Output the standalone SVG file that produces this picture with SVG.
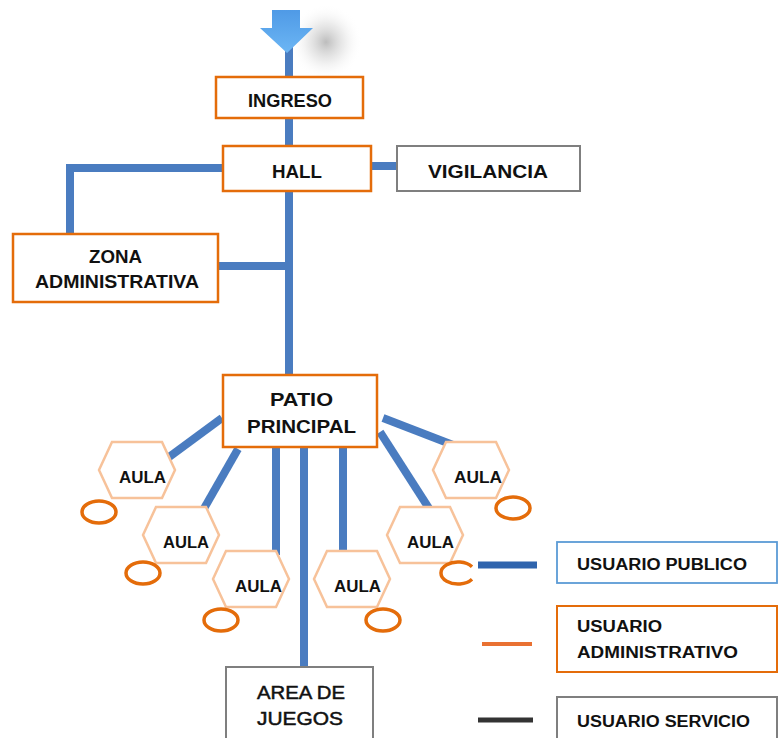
<svg xmlns="http://www.w3.org/2000/svg" xmlns:xlink="http://www.w3.org/1999/xlink" width="781" height="738" viewBox="0 0 781 738">
<style>
.box{fill:#fff;stroke:#e46c0a;stroke-width:2.5}
.gbox{fill:#fff;stroke:#7f7f7f;stroke-width:2}
.hex{fill:#fff;stroke:#f7c29a;stroke-width:2.5}
.ell{fill:none;stroke:#e46c0a;stroke-width:3.5}
.con{stroke:#4a7cc0;stroke-width:8;fill:none}
.t{font-family:"Liberation Sans",Arial,sans-serif;font-weight:bold;font-size:18px;fill:#111}
.a{font-family:"Liberation Sans",Arial,sans-serif;font-weight:bold;font-size:16px;fill:#111}
.r{font-family:"Liberation Sans",Arial,sans-serif;font-size:19px;fill:#111;stroke:#111;stroke-width:0.5}
</style>
<defs>
<polygon id="hex" points="-38,0 -25,-28 25,-28 38,0 25,28 -25,28"/>
<linearGradient id="arr" x1="0" y1="0" x2="0" y2="1">
<stop offset="0" stop-color="#4f9ae6"/>
<stop offset="1" stop-color="#6cb6f4"/>
</linearGradient>
<radialGradient id="sh">
<stop offset="0" stop-color="#a0a0a0" stop-opacity="0.7"/>
<stop offset="0.5" stop-color="#c8c8c8" stop-opacity="0.35"/>
<stop offset="1" stop-color="#ffffff" stop-opacity="0"/>
</radialGradient>
</defs>
<rect width="781" height="738" fill="#fff"/>
<ellipse cx="326" cy="42" rx="36" ry="38" fill="url(#sh)"/>

<g id="connectors">
<line class="con" x1="289" y1="45" x2="289" y2="375"/>
<polyline class="con" points="223,168 70,168 70,234"/>
<line class="con" x1="218" y1="266" x2="289" y2="266"/>
<line class="con" x1="371" y1="166" x2="397" y2="166"/>
<line class="con" x1="222" y1="418" x2="165" y2="460"/>
<line class="con" x1="238" y1="449" x2="202" y2="512"/>
<line class="con" x1="276" y1="447" x2="276" y2="555"/>
<line class="con" x1="304" y1="447" x2="304" y2="667"/>
<line class="con" x1="343" y1="447" x2="343" y2="555"/>
<line class="con" x1="380" y1="432" x2="430" y2="510"/>
<line class="con" x1="383" y1="418" x2="453" y2="445"/>
</g>

<g id="entrada-flecha">
<polygon points="272,10 300,10 300,28 313,28 287,53 260,28 272,28" fill="url(#arr)"/>
</g>

<g id="ingreso">
<rect class="box" x="216" y="77" width="147" height="41"/>
<text class="t" x="248" y="107" textLength="84" lengthAdjust="spacingAndGlyphs">INGRESO</text>
</g>

<g id="hall">
<rect class="box" x="223" y="146" width="148" height="45"/>
<text class="t" x="272" y="178" textLength="50" lengthAdjust="spacingAndGlyphs">HALL</text>
</g>

<g id="vigilancia">
<rect class="gbox" x="397" y="146" width="183" height="45"/>
<text class="t" x="428" y="178" textLength="120" lengthAdjust="spacingAndGlyphs">VIGILANCIA</text>
</g>

<g id="zona-administrativa">
<rect class="box" x="13" y="234" width="205" height="68"/>
<text class="t" x="89" y="263" textLength="53" lengthAdjust="spacingAndGlyphs">ZONA</text>
<text class="t" x="35" y="288" textLength="164" lengthAdjust="spacingAndGlyphs">ADMINISTRATIVA</text>
</g>

<g id="patio-principal">
<rect class="box" x="223" y="375" width="154" height="72"/>
<text class="t" x="270" y="406" textLength="63" lengthAdjust="spacingAndGlyphs">PATIO</text>
<text class="t" x="247" y="433" textLength="109" lengthAdjust="spacingAndGlyphs">PRINCIPAL</text>
</g>

<g id="aula-1">
<use href="#hex" class="hex" x="137" y="470"/>
<text class="a" x="119" y="483" textLength="47" lengthAdjust="spacingAndGlyphs">AULA</text>
<ellipse class="ell" cx="99" cy="512" rx="17" ry="11"/>
</g>
<g id="aula-2">
<use href="#hex" class="hex" x="181" y="535"/>
<text class="a" x="163" y="548" textLength="46" lengthAdjust="spacingAndGlyphs">AULA</text>
<ellipse class="ell" cx="143" cy="573" rx="17" ry="11"/>
</g>
<g id="aula-3">
<use href="#hex" class="hex" x="251" y="579"/>
<text class="a" x="235" y="592" textLength="47" lengthAdjust="spacingAndGlyphs">AULA</text>
<ellipse class="ell" cx="221" cy="620" rx="17" ry="11"/>
</g>
<g id="aula-4">
<use href="#hex" class="hex" x="352" y="579"/>
<text class="a" x="334" y="592" textLength="47" lengthAdjust="spacingAndGlyphs">AULA</text>
<ellipse class="ell" cx="383" cy="620" rx="17" ry="11"/>
</g>
<g id="aula-5">
<use href="#hex" class="hex" x="425" y="535"/>
<text class="a" x="407" y="548" textLength="47" lengthAdjust="spacingAndGlyphs">AULA</text>
<path class="ell" d="M472,566.8 A17,11 0 1 0 472,579.2"/>
</g>
<g id="aula-6">
<use href="#hex" class="hex" x="471" y="470"/>
<text class="a" x="454" y="483" textLength="48" lengthAdjust="spacingAndGlyphs">AULA</text>
<ellipse class="ell" cx="513" cy="508" rx="17" ry="11"/>
</g>

<g id="area-de-juegos">
<rect class="gbox" x="226" y="667" width="147" height="76"/>
<text class="r" x="257" y="699" textLength="88" lengthAdjust="spacingAndGlyphs">AREA DE</text>
<text class="r" x="257" y="725" textLength="86" lengthAdjust="spacingAndGlyphs">JUEGOS</text>
</g>

<g id="leyenda-publico">
<line x1="478" y1="565" x2="537" y2="565" stroke="#2f64ad" stroke-width="7"/>
<rect x="557" y="542" width="220" height="41" fill="#fff" stroke="#5b9bd5" stroke-width="1.8"/>
<text class="a" x="577" y="570" textLength="170" lengthAdjust="spacingAndGlyphs">USUARIO PUBLICO</text>
</g>
<g id="leyenda-administrativo">
<line x1="482" y1="644" x2="532" y2="644" stroke="#e97132" stroke-width="4"/>
<rect x="557" y="606" width="220" height="66" fill="#fff" stroke="#e46c0a" stroke-width="2"/>
<text class="a" x="577" y="632" textLength="85" lengthAdjust="spacingAndGlyphs">USUARIO</text>
<text class="a" x="577" y="658" textLength="161" lengthAdjust="spacingAndGlyphs">ADMINISTRATIVO</text>
</g>
<g id="leyenda-servicio">
<line x1="478" y1="720" x2="533" y2="720" stroke="#333" stroke-width="5"/>
<rect x="557" y="697" width="220" height="46" fill="#fff" stroke="#7f7f7f" stroke-width="2"/>
<text class="a" x="577" y="727" textLength="173" lengthAdjust="spacingAndGlyphs">USUARIO SERVICIO</text>
</g>
</svg>
